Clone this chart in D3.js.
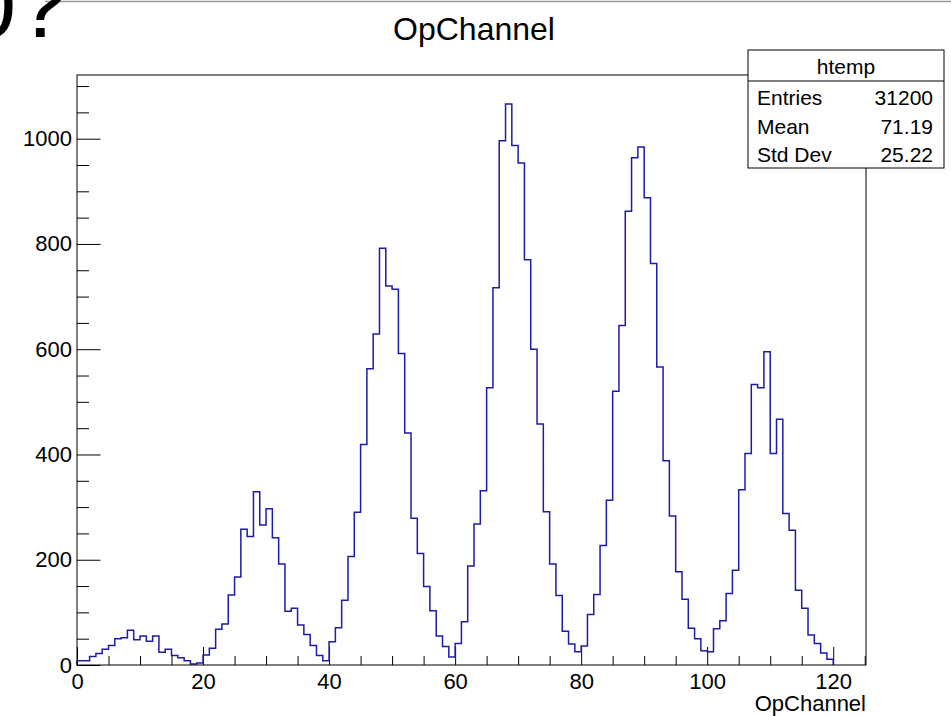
<!DOCTYPE html>
<html>
<head>
<meta charset="utf-8">
<script src="https://cdn.jsdelivr.net/npm/d3@7"></script>
<style>
    html, body { margin: 0; padding: 0; background: #fff; }
    text { font-family: "Liberation Sans", Arial, sans-serif; fill: #000; }
</style>
</head>
<body>
<div id="chart"></div>
<script>
// ---- Data ----
// counts per OpChannel bin, bins are 1 wide starting at 0
const counts = [
    8, 8, 16, 22, 30, 37, 50, 52, 66, 48,
    55, 45, 55, 24, 30, 18, 14, 8, 2, 4,
    19, 32, 68, 78, 133, 167, 258, 244, 329, 266,
    297, 242, 192, 102, 108, 76, 58, 37, 18, 8,
    44, 71, 123, 206, 290, 419, 563, 629, 792, 720,
    714, 592, 441, 279, 212, 149, 103, 55, 35, 15,
    41, 82, 188, 268, 331, 527, 717, 996, 1066, 987,
    954, 770, 600, 458, 291, 192, 132, 64, 40, 25,
    36, 96, 134, 227, 313, 520, 645, 862, 964, 984,
    888, 763, 566, 388, 283, 177, 125, 70, 50, 27,
    25, 69, 84, 136, 180, 333, 402, 533, 527, 595,
    402, 467, 288, 256, 142, 108, 57, 41, 23, 11
];
const binStart = 0;
const binWidth = 1;

const chartTitle = "OpChannel";
const xTitle = "OpChannel";
const histName = "htemp";
const statLabels = ["Entries", "Mean", "Std Dev"];
const statValues = ["31200", "71.19", "25.22"];

const xMajorTicks = [0, 20, 40, 60, 80, 100, 120];
const yMajorTicks = [0, 200, 400, 600, 800, 1000];
const xDomain = [0, 125.2];
const yDomain = [0, 1121];

// ---- Layout ----
const width = 951;
const height = 716;
const margin = { top: 75, right: 85, bottom: 51, left: 77 };
const innerWidth = width - margin.left - margin.right;
const innerHeight = height - margin.top - margin.bottom;

const svg = d3.select("#chart").append("svg")
    .attr("width", width)
    .attr("height", height);

// leftover of the slide behind the canvas
svg.append("line")
    .attr("x1", 45).attr("x2", width)
    .attr("y1", 1.5).attr("y2", 1.5)
    .attr("stroke", "#999")
    .attr("stroke-width", 1.5);

svg.append("text")
    .attr("x", -35)
    .attr("y", 37)
    .style("font-size", "92px")
    .text("0?");

const g = svg.append("g")
    .attr("transform", `translate(${margin.left}, ${margin.top})`);

// ---- Scales ----
const x = d3.scaleLinear().domain(xDomain).range([0, innerWidth]);
const y = d3.scaleLinear().domain(yDomain).range([innerHeight, 0]);

// ---- Axes (ROOT style, ticks pointing inward) ----
const xMinor = d3.range(0, xDomain[1], 5).filter(v => !xMajorTicks.includes(v));
const yMinor = d3.range(0, yDomain[1], 50).filter(v => !yMajorTicks.includes(v));

const xAxis = g.append("g")
    .attr("transform", `translate(0, ${innerHeight})`)
    .call(d3.axisBottom(x)
        .tickValues(xMajorTicks)
        .tickSizeInner(-18)
        .tickSizeOuter(0)
        .tickPadding(8)
        .tickFormat(d3.format("d")));

const xMinorAxis = g.append("g")
    .attr("transform", `translate(0, ${innerHeight})`)
    .call(d3.axisBottom(x)
        .tickValues(xMinor)
        .tickSizeInner(-9)
        .tickSizeOuter(0));

const yAxis = g.append("g")
    .call(d3.axisLeft(y)
        .tickValues(yMajorTicks)
        .tickSizeInner(-23.5)
        .tickSizeOuter(0)
        .tickPadding(5)
        .tickFormat(d3.format("d")));

const yMinorAxis = g.append("g")
    .call(d3.axisLeft(y)
        .tickValues(yMinor)
        .tickSizeInner(-12)
        .tickSizeOuter(0));

// minor ticks carry no labels
xMinorAxis.selectAll("text").remove();
yMinorAxis.selectAll("text").remove();

g.selectAll(".domain").remove();
g.selectAll(".tick line").attr("stroke", "#000").attr("stroke-width", 1);
xAxis.selectAll("text").style("font-size", "22px").attr("fill", "#000");
yAxis.selectAll("text").style("font-size", "22px").attr("fill", "#000");

// ---- Histogram outline ----
const pts = [[binStart, 0]];
counts.forEach((c, i) => {
    const lo = binStart + i * binWidth;
    pts.push([lo, c], [lo + binWidth, c]);
});
pts.push([binStart + counts.length * binWidth, 0]);

g.append("path")
    .datum(pts)
    .attr("fill", "none")
    .attr("stroke", "#1c1ca8")
    .attr("stroke-width", 1.5)
    .attr("d", d3.line()
        .x(d => x(d[0]))
        .y(d => y(d[1])));

// frame
g.append("rect")
    .attr("x", 0)
    .attr("y", 0)
    .attr("width", innerWidth)
    .attr("height", innerHeight)
    .attr("fill", "none")
    .attr("stroke", "#000")
    .attr("stroke-width", 1);

// ---- Titles ----
svg.append("text")
    .attr("x", 474)
    .attr("y", 40)
    .attr("text-anchor", "middle")
    .style("font-size", "32px")
    .text(chartTitle);

svg.append("text")
    .attr("x", margin.left + innerWidth)
    .attr("y", 711)
    .attr("text-anchor", "end")
    .style("font-size", "22px")
    .text(xTitle);

// ---- Stats box ----
const box = { x: 748, y: 50, w: 196, h: 118, head: 31 };
const stats = svg.append("g");

stats.append("rect")
    .attr("x", box.x)
    .attr("y", box.y)
    .attr("width", box.w)
    .attr("height", box.h)
    .attr("fill", "#fff")
    .attr("stroke", "#000")
    .attr("stroke-width", 1);

stats.append("line")
    .attr("x1", box.x).attr("x2", box.x + box.w)
    .attr("y1", box.y + box.head).attr("y2", box.y + box.head)
    .attr("stroke", "#000");

stats.append("text")
    .attr("x", box.x + box.w / 2)
    .attr("y", box.y + 24)
    .attr("text-anchor", "middle")
    .style("font-size", "21px")
    .text(histName);

stats.selectAll(".stat-label")
    .data(statLabels)
    .enter()
    .append("text")
    .attr("x", box.x + 9)
    .attr("y", (d, i) => box.y + 55 + i * 28.5)
    .style("font-size", "21px")
    .text(d => d);

stats.selectAll(".stat-value")
    .data(statValues)
    .enter()
    .append("text")
    .attr("x", box.x + box.w - 11)
    .attr("y", (d, i) => box.y + 55 + i * 28.5)
    .attr("text-anchor", "end")
    .style("font-size", "21px")
    .text(d => d);
</script>
</body>
</html>
